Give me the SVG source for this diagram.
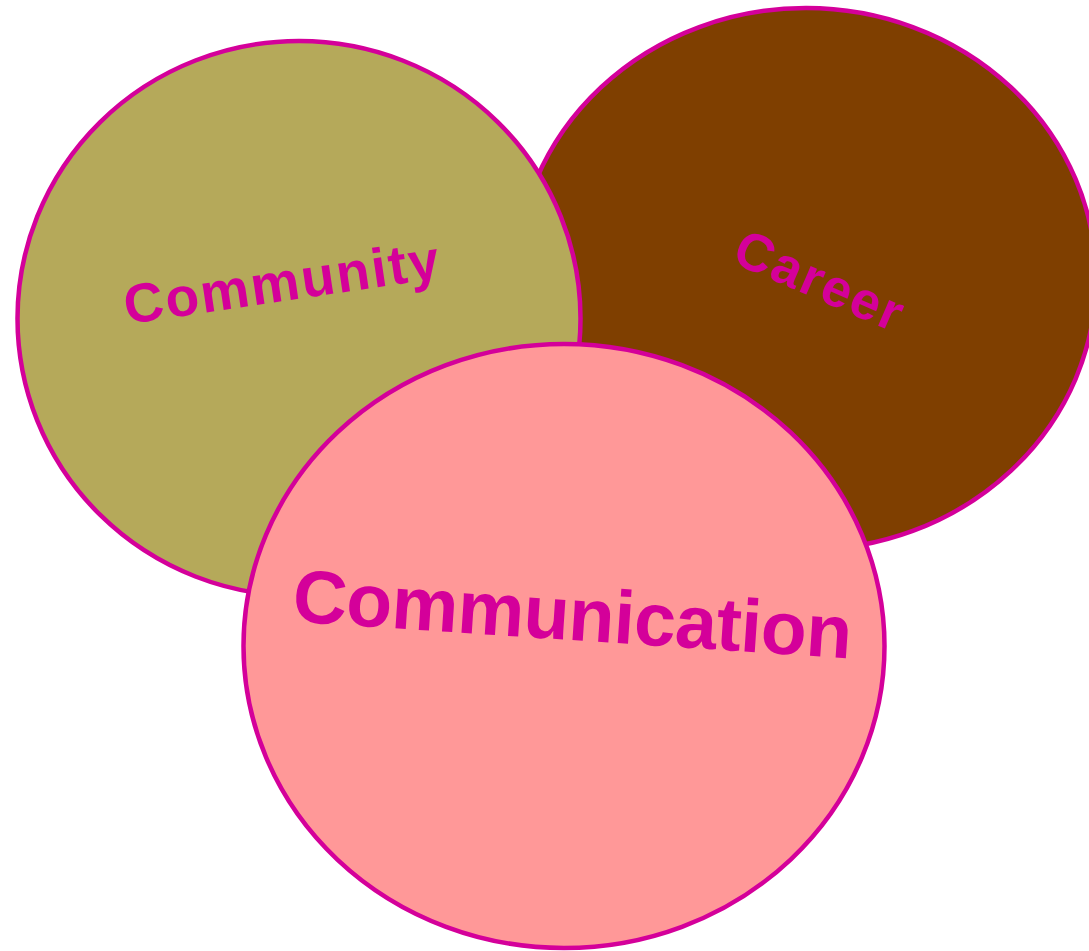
<svg xmlns="http://www.w3.org/2000/svg" width="1089" height="951" viewBox="0 0 1089 951">
<style>
.shape{stroke:#D4009A;stroke-width:4.5}
.lbl{font-family:"Liberation Sans",Arial,sans-serif;font-weight:bold;fill:#D4009A;text-anchor:middle}
</style>
<rect width="1089" height="951" fill="#FFFFFF"/>
<g id="career">
<ellipse class="shape" cx="806" cy="279" rx="290" ry="271" fill="#7F3F00"/>
<text class="lbl" x="812" y="297" font-size="53" textLength="178" lengthAdjust="spacing" transform="rotate(23.4 812 297)">Career</text>
</g>
<g id="community">
<ellipse class="shape" cx="299" cy="318.5" rx="281.5" ry="277.5" fill="#B5A95A"/>
<text class="lbl" x="284" y="301" font-size="55" textLength="318" lengthAdjust="spacing" transform="rotate(-8.4 284 301)">Community</text>
</g>
<g id="communication">
<ellipse class="shape" cx="564" cy="646" rx="320.5" ry="302" fill="#FF9898"/>
<text class="lbl" x="571" y="640" font-size="75" textLength="560" lengthAdjust="spacing" transform="rotate(3.8 571 640)">Communication</text>
</g>
<g id="connectors"></g>
</svg>
